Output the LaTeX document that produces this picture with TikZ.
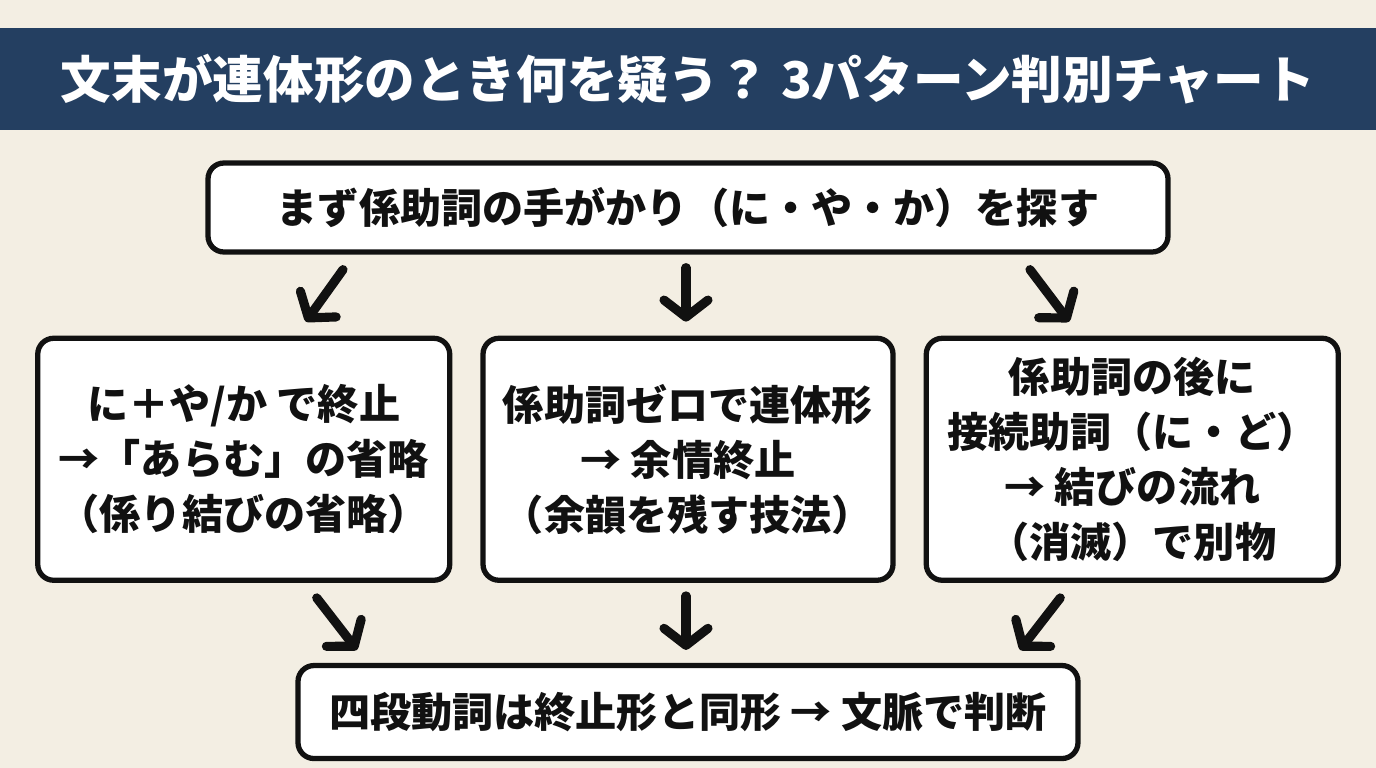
\documentclass[tikz,border=0pt]{standalone}
\usepackage{fontspec}
\newfontfamily\jp{Noto Sans CJK JP}
\usetikzlibrary{arrows.meta,positioning}

\definecolor{paper}{HTML}{F3EEE3}
\definecolor{navy}{HTML}{243F61}
\definecolor{ink}{HTML}{111111}

\begin{document}
\begin{tikzpicture}[
    node distance=0.8cm and 0.28cm,
    >={Straight Barb[length=1.7mm,width=4.4mm,line cap=round,line join=round]},
    box/.style={
        draw=ink,
        fill=white,
        rectangle,
        rounded corners=0.16cm,
        line width=1.5pt,
        align=center,
        text=ink,
        font=\jp\bfseries\fontsize{11.7}{15.6}\selectfont
    },
    midbox/.style={
        box,
        minimum width=4.1cm,
        minimum height=2.42cm,
        inner sep=0pt
    },
    arr/.style={
        ->,
        draw=ink,
        line width=2.6pt,
        line cap=round
    }
]

% background and title bar
\fill[paper] (0,0) rectangle (13.76,-7.68);
\fill[navy] (0,-0.28) rectangle (13.76,-1.30);
\node[text=white, font=\jp\bfseries\fontsize{14.4}{16}\selectfont] (title) at (6.88,-0.79) {文末が連体形のとき何を疑う？ 3パターン判別チャート};

\node[box, minimum width=9.6cm, minimum height=0.89cm] (start) at (6.88,-2.075) {まず係助詞の手がかり（に・や・か）を探す};

\node[midbox, below=0.81cm of start] (zero) {係助詞ゼロで連体形\\→ 余情終止\\（余韻を残す技法）};
\node[midbox, left=0.28cm of zero, minimum width=4.12cm] (omit) {に＋や/か で終止\\→「あらむ」の省略\\（係り結びの省略）};
\node[midbox, right=0.28cm of zero, minimum width=4.12cm] (flow) {係助詞の後に\\接続助詞（に・ど）\\→ 結びの流れ\\（消滅）で別物};

\node[box, below=0.8cm of zero, minimum width=7.8cm, minimum height=0.93cm] (judge) {四段動詞は終止形と同形 → 文脈で判断};

\draw[arr] ([xshift=-3.45cm, yshift=-0.15cm]start.south) -- ([xshift=0.62cm, yshift=0.14cm]omit.north);
\draw[arr] ([xshift=-0.02cm, yshift=-0.13cm]start.south) -- ([xshift=-0.02cm, yshift=0.14cm]zero.north);
\draw[arr] ([xshift=3.42cm, yshift=-0.15cm]start.south) -- ([xshift=-0.63cm, yshift=0.14cm]flow.north);

\draw[arr] ([xshift=0.73cm, yshift=-0.15cm]omit.south) -- ([xshift=-3.31cm, yshift=0.13cm]judge.north);
\draw[arr] ([xshift=-0.02cm, yshift=-0.13cm]zero.south) -- ([xshift=-0.02cm, yshift=0.13cm]judge.north);
\draw[arr] ([xshift=-0.72cm, yshift=-0.15cm]flow.south) -- ([xshift=3.32cm, yshift=0.13cm]judge.north);

\end{tikzpicture}
\end{document}
